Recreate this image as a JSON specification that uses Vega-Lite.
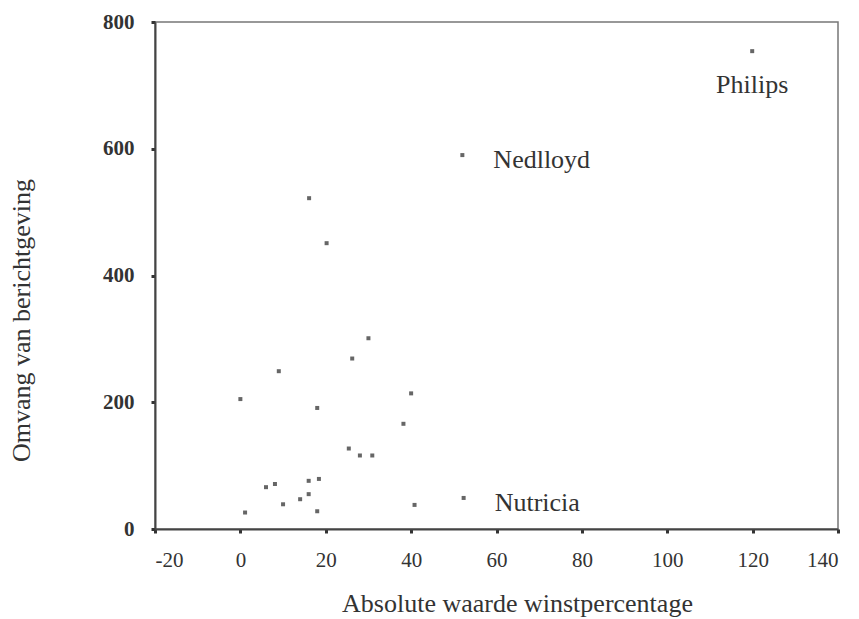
{
  "$schema": "https://vega.github.io/schema/vega-lite/v6.json",
  "width": 683,
  "height": 507,
  "autosize": {"type": "none"},
  "padding": {"left": 155, "top": 22, "right": 21, "bottom": 90},
  "background": "white",
  "config": {
    "view": {"stroke": "#777", "strokeWidth": 1.5},
    "font": "Liberation Serif"
  },
  "datasets": {
    "pts": [
      {"winst": 0, "omvang": 205},
      {"winst": 18, "omvang": 191},
      {"winst": 40, "omvang": 214},
      {"winst": 38.2, "omvang": 166},
      {"winst": 25.4, "omvang": 127},
      {"winst": 28, "omvang": 116},
      {"winst": 30.9, "omvang": 116},
      {"winst": 6, "omvang": 66},
      {"winst": 8.1, "omvang": 71},
      {"winst": 16, "omvang": 76},
      {"winst": 18.4, "omvang": 79},
      {"winst": 16, "omvang": 55},
      {"winst": 14, "omvang": 47},
      {"winst": 10, "omvang": 39},
      {"winst": 18, "omvang": 28},
      {"winst": 1.1, "omvang": 26},
      {"winst": 40.8, "omvang": 38},
      {"winst": 52.3, "omvang": 49, "naam": "Nutricia"},
      {"winst": 52, "omvang": 590, "naam": "Nedlloyd"},
      {"winst": 16.1, "omvang": 522},
      {"winst": 20.2, "omvang": 451},
      {"winst": 30, "omvang": 301},
      {"winst": 26.2, "omvang": 269},
      {"winst": 9, "omvang": 249},
      {"winst": 119.9, "omvang": 754, "naam": "Philips"}
    ]
  },
  "data": {"name": "pts"},
  "encoding": {
    "x": {
      "field": "winst",
      "type": "quantitative",
      "scale": {"domain": [-20, 140], "nice": false, "zero": false},
      "axis": {
        "values": [-20, 0, 20, 40, 60, 80, 100, 120, 140],
        "labelExpr": "replace(datum.label, '\u2212', '-')",
        "title": "Absolute waarde winstpercentage",
        "grid": false,
        "domainColor": "#444",
        "domainWidth": 2,
        "tickColor": "#333",
        "tickSize": 4,
        "tickWidth": 3,
        "labelFont": "Liberation Serif",
        "labelFontSize": 21,
        "labelColor": "#333",
        "labelPadding": 16,
        "labelBaseline": "top",
        "titleFont": "Liberation Serif",
        "titleFontSize": 26,
        "titleFontWeight": "normal",
        "titleColor": "#333",
        "titleX": 362,
        "titleY": 82,
        "titleBaseline": "alphabetic",
        "titleAlign": "center"
      }
    },
    "y": {
      "field": "omvang",
      "type": "quantitative",
      "scale": {"domain": [0, 800], "nice": false},
      "axis": {
        "values": [0, 200, 400, 600, 800],
        "title": "Omvang van berichtgeving",
        "grid": false,
        "domainColor": "#444",
        "domainWidth": 2,
        "tickColor": "#333",
        "tickSize": 4,
        "tickWidth": 3,
        "labelFont": "Liberation Serif",
        "labelFontSize": 21,
        "labelFontWeight": "bold",
        "labelColor": "#333",
        "labelPadding": 17,
        "titleFont": "Liberation Serif",
        "titleFontSize": 26,
        "titleFontWeight": "normal",
        "titleColor": "#333",
        "titleX": -134,
        "titleY": 298,
        "titleAngle": 270,
        "titleBaseline": "middle",
        "titleAlign": "center"
      }
    }
  },
  "layer": [
    {
      "mark": {"type": "point", "shape": "square", "filled": true, "size": 16, "color": "#666", "opacity": 1}
    },
    {
      "transform": [{"filter": "datum.naam == 'Philips'"}],
      "mark": {"type": "text", "align": "center", "baseline": "alphabetic", "dy": 42, "font": "Liberation Serif", "fontSize": 26, "color": "#333"},
      "encoding": {"text": {"field": "naam"}}
    },
    {
      "transform": [{"filter": "datum.naam == 'Nedlloyd' || datum.naam == 'Nutricia'"}],
      "mark": {"type": "text", "align": "left", "baseline": "alphabetic", "dx": 31, "dy": 13, "font": "Liberation Serif", "fontSize": 26, "color": "#333"},
      "encoding": {"text": {"field": "naam"}}
    }
  ]
}
